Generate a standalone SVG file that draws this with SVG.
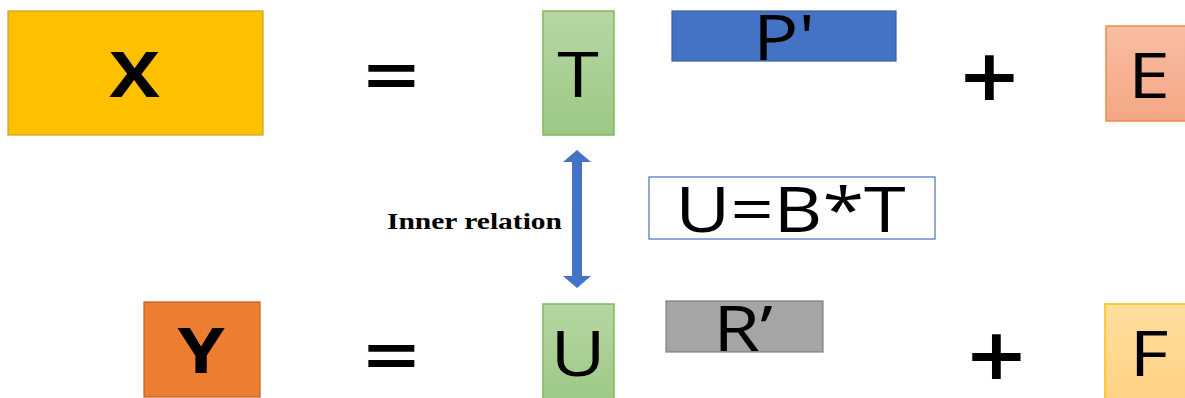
<svg xmlns="http://www.w3.org/2000/svg" width="1185" height="398" viewBox="0 0 1185 398">
<defs>
<linearGradient id="gGreen" x1="0" y1="0" x2="0" y2="1"><stop offset="0" stop-color="#B6D7A3"/><stop offset="1" stop-color="#9DC884"/></linearGradient>
<linearGradient id="gSalmon" x1="0" y1="0" x2="0" y2="1"><stop offset="0" stop-color="#F8BDA2"/><stop offset="1" stop-color="#F4A784"/></linearGradient>
<linearGradient id="gLight" x1="0" y1="0" x2="0" y2="1"><stop offset="0" stop-color="#FFDE9E"/><stop offset="1" stop-color="#FFD183"/></linearGradient>
<style>
.t{font-family:"Open Sans","Liberation Sans",sans-serif;fill:#000;text-anchor:middle}
.b{font-weight:bold}
.sb{font-weight:600}
.big{font-size:62px}
.green{fill:url(#gGreen);stroke:#7FBA5C;stroke-width:1.5}
.lbl{font-family:"Liberation Serif","Times New Roman",serif;font-weight:bold;font-size:23px;fill:#000}
</style>
</defs>
<rect width="1185" height="398" fill="#fff"/>
<g id="nodeX">
<rect x="8" y="11" width="255" height="124" fill="#FFC000" stroke="#C9A227" stroke-width="1.2"/>
<text class="t b big" transform="translate(134.5,97) scale(1.22,1)">X</text>
</g>
<g id="eqTop"><text class="t sb" font-size="80" transform="translate(391.5,104) scale(1.22,1)">=</text></g>
<g id="nodeT">
<rect class="green" x="543" y="11" width="71" height="124"/>
<text class="t big" transform="translate(578,97) scale(1.22,1)">T</text>
</g>
<g id="nodeP">
<rect x="672" y="11" width="224" height="50" fill="#4472C4" stroke="#3A5F9E" stroke-width="1.2"/>
<text class="t big" transform="translate(784,60) scale(1.22,1)">P'</text>
</g>
<g id="plusTop"><text class="t sb" font-size="92" transform="translate(989.5,110) scale(1.1,1)">+</text></g>
<g id="nodeE">
<rect x="1106" y="26" width="85" height="95" fill="url(#gSalmon)" stroke="#F08A4B" stroke-width="1.5"/>
<text class="t big" transform="translate(1149,98) scale(1.22,1)">E</text>
</g>
<g id="nodeUBT">
<rect x="649" y="177" width="286" height="62" fill="#fff" stroke="#4472C4" stroke-width="1.2"/>
<text class="t big" transform="translate(790.5,232) scale(1.22,1)">U=B*T</text>
</g>
<g id="labelInner"><text class="lbl" x="387" y="229" textLength="175" lengthAdjust="spacingAndGlyphs">Inner relation</text></g>
<g id="nodeY">
<rect x="144" y="302" width="116" height="95" fill="#ED7D31" stroke="#C0621F" stroke-width="1.2"/>
<text class="t b big" transform="translate(201,373) scale(1.22,1)">Y</text>
</g>
<g id="eqBottom"><text class="t sb" font-size="80" transform="translate(391.5,384) scale(1.22,1)">=</text></g>
<g id="nodeU">
<rect class="green" x="543" y="304" width="71" height="100"/>
<text class="t big" transform="translate(578,376) scale(1.22,1)">U</text>
</g>
<g id="nodeR">
<rect x="666" y="301" width="157" height="51" fill="#A5A5A5" stroke="#808080" stroke-width="1.2"/>
<text class="t big" transform="translate(743,351) scale(1.22,1)">R’</text>
</g>
<g id="plusBottom"><text class="t sb" font-size="92" transform="translate(996.5,389) scale(1.1,1)">+</text></g>
<g id="nodeF">
<rect x="1105" y="304" width="86" height="100" fill="url(#gLight)" stroke="#FFC000" stroke-width="1.5"/>
<text class="t big" transform="translate(1149,376) scale(1.22,1)">F</text>
</g>
<g id="connectors">
<path d="M577,150 L591,162 L582,162 L582,276 L591,276 L577,288 L563,276 L572,276 L572,162 L563,162 Z" fill="#4472C4"/>
</g>
</svg>
